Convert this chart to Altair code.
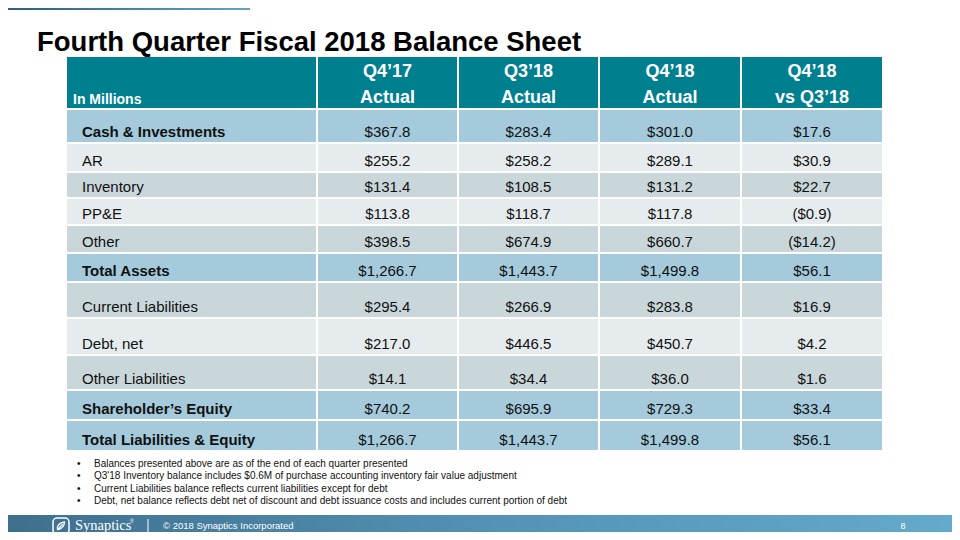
import altair as alt
import pandas as pd

# ---------------- data ----------------
title = "Fourth Quarter Fiscal 2018 Balance Sheet"
unit_label = "In Millions"
header_line1 = ["Q4’17", "Q3’18", "Q4’18", "Q4’18"]
header_line2 = ["Actual", "Actual", "Actual", "vs Q3’18"]
row_labels = ["Cash & Investments", "AR", "Inventory", "PP&E", "Other", "Total Assets",
              "Current Liabilities", "Debt, net", "Other Liabilities",
              "Shareholder’s Equity", "Total Liabilities & Equity"]
q4_17 = [367.8, 255.2, 131.4, 113.8, 398.5, 1266.7, 295.4, 217.0, 14.1, 740.2, 1266.7]
q3_18 = [283.4, 258.2, 108.5, 118.7, 674.9, 1443.7, 266.9, 446.5, 34.4, 695.9, 1443.7]
q4_18 = [301.0, 289.1, 131.2, 117.8, 660.7, 1499.8, 283.8, 450.7, 36.0, 729.3, 1499.8]
vs_q3 = [17.6, 30.9, 22.7, -0.9, -14.2, 56.1, 16.9, 4.2, 1.6, 33.4, 56.1]
is_total = [True, False, False, False, False, True, False, False, False, True, True]
notes = [
    "Balances presented above are as of the end of each quarter presented",
    "Q3'18 Inventory balance includes $0.6M of purchase accounting inventory fair value adjustment",
    "Current Liabilities balance reflects current liabilities except for debt",
    "Debt, net balance reflects debt net of discount and debt issuance costs and includes current portion of debt",
]
footer_brand = "Synaptics"
footer_copy = "© 2018 Synaptics Incorporated"
page_number = "8"

# ---------------- layout (pixels of the 960x540 slide) ----------------
col_edges = [(67, 316), (318, 457), (459, 598), (600, 740), (742, 882)]
header_edges = (57, 108)
row_edges = [(110, 142), (144, 171), (173, 197), (199, 224), (226, 252), (254, 281),
             (283, 317), (319, 354), (356, 389), (391, 419), (421, 450)]
row_kind = ["total", "light", "gray", "light", "gray", "total", "gray", "light", "gray", "total", "total"]
kind_fill = {"total": "#A4CADB", "light": "#E6ECEE", "gray": "#C9D7DB"}
HEADER_FILL = "#00808F"
FONT = "Liberation Sans"

# the page has an 8px margin: map slide pixel c to page pixel c
xs = alt.Scale(domain=[8, 952], nice=False, zero=False)
ys = alt.Scale(domain=[8, 532], nice=False, zero=False, reverse=True)


def X(f="x"):
    return alt.X(f"{f}:Q", scale=xs, axis=None)


def Y(f="y"):
    return alt.Y(f"{f}:Q", scale=ys, axis=None)


def fmt(v):
    s = f"${abs(v):,.1f}"
    return f"({s})" if v < 0 else s


# ---------------- cells ----------------
cells = []
for (x0, x1) in col_edges:
    cells.append(dict(x=x0, x2=x1, y=header_edges[0], y2=header_edges[1], fill=HEADER_FILL))
for (y0, y1), k in zip(row_edges, row_kind):
    for (x0, x1) in col_edges:
        cells.append(dict(x=x0, x2=x1, y=y0, y2=y1, fill=kind_fill[k]))
cells = pd.DataFrame(cells)

rect_layer = alt.Chart(cells).mark_rect().encode(
    x=X(), x2="x2:Q", y=Y(), y2="y2:Q", color=alt.Color("fill:N", scale=None)
)

# header texts
hdr = []
for i, (a, b) in enumerate(zip(header_line1, header_line2)):
    cx = (col_edges[i + 1][0] + col_edges[i + 1][1]) / 2
    hdr.append(dict(x=cx, y=77, t=a))
    hdr.append(dict(x=cx, y=103, t=b))
hdr = pd.DataFrame(hdr)
hdr_layer = alt.Chart(hdr).mark_text(
    font=FONT, fontSize=18, fontWeight="bold", color="white", baseline="alphabetic", align="center"
).encode(x=X(), y=Y(), text="t:N")

unit_layer = alt.Chart(pd.DataFrame([dict(x=73, y=104, t=unit_label)])).mark_text(
    font=FONT, fontSize=14, fontWeight="bold", color="white", baseline="alphabetic", align="left"
).encode(x=X(), y=Y(), text="t:N")

# row labels
lab = pd.DataFrame(dict(
    x=[82] * len(row_labels),
    y=[b - 5 for (_, b) in row_edges],
    t=row_labels,
    total=is_total,
))
lab_bold = alt.Chart(lab[lab.total]).mark_text(
    font=FONT, fontSize=15, fontWeight="bold", color="#111111", baseline="alphabetic", align="left"
).encode(x=X(), y=Y(), text="t:N")
lab_reg = alt.Chart(lab[~lab.total]).mark_text(
    font=FONT, fontSize=15, color="#111111", baseline="alphabetic", align="left"
).encode(x=X(), y=Y(), text="t:N")

# values
vals = []
for ci, series in enumerate([q4_17, q3_18, q4_18, vs_q3]):
    cx = (col_edges[ci + 1][0] + col_edges[ci + 1][1]) / 2
    for ri, v in enumerate(series):
        vals.append(dict(x=cx, y=row_edges[ri][1] - 5, t=fmt(v)))
vals = pd.DataFrame(vals)
val_layer = alt.Chart(vals).mark_text(
    font=FONT, fontSize=15, color="#111111", baseline="alphabetic", align="center"
).encode(x=X(), y=Y(), text="t:N")

# title
title_layer = alt.Chart(pd.DataFrame([dict(x=37, y=51, t=title)])).mark_text(
    font=FONT, fontSize=27.5, fontWeight="bold", color="#000000", baseline="alphabetic", align="left"
).encode(x=X(), y=Y(), text="t:N")

# notes
nd = pd.DataFrame(dict(x=[94] * len(notes), y=[467 + 12.4 * i for i in range(len(notes))], t=notes))
nd["bx"] = 77
notes_layer = alt.Chart(nd).mark_text(
    font=FONT, fontSize=10, color="#111111", baseline="alphabetic", align="left"
).encode(x=X(), y=Y(), text="t:N")
bullet_layer = alt.Chart(nd).mark_text(
    font=FONT, fontSize=10, color="#111111", baseline="alphabetic", align="left", text="•"
).encode(x=X("bx"), y=Y())

# top bar and footer band
top_bar = alt.Chart(pd.DataFrame([dict(x=8, x2=250, y=8, y2=10)])).mark_rect(
    color=alt.LinearGradient(gradient="linear", x1=0, x2=1, y1=0, y2=0,
                             stops=[alt.GradientStop(color="#2F5F80", offset=0),
                                    alt.GradientStop(color="#62A3C4", offset=1)])
).encode(x=X(), x2="x2:Q", y=Y(), y2="y2:Q")

footer = alt.Chart(pd.DataFrame([dict(x=8, x2=952, y=515, y2=532)])).mark_rect(
    color=alt.LinearGradient(gradient="linear", x1=0, x2=1, y1=0, y2=0,
                             stops=[alt.GradientStop(color="#3E6F8F", offset=0),
                                    alt.GradientStop(color="#5495B6", offset=0.55),
                                    alt.GradientStop(color="#64AACA", offset=1)])
).encode(x=X(), x2="x2:Q", y=Y(), y2="y2:Q")

logo_box = alt.Chart(pd.DataFrame([dict(x=53, x2=69, y=518, y2=534)])).mark_rect(
    fill="transparent", stroke="white", strokeWidth=1.5, cornerRadius=4
).encode(x=X(), x2="x2:Q", y=Y(), y2="y2:Q")
logo_leaf = alt.Chart(pd.DataFrame([dict(x=61, y=526)])).mark_point(
    shape="M-0.6,0.7 C-0.8,0.0 -0.3,-0.6 0.6,-0.7 C0.6,0.0 0.1,0.5 -0.6,0.7 M-0.6,0.7 C-0.2,0.2 0.1,-0.1 0.3,-0.3",
    filled=False, stroke="white", strokeWidth=1.3, size=130, opacity=1
).encode(x=X(), y=Y())

brand = alt.Chart(pd.DataFrame([dict(x=75, y=530, t=footer_brand)])).mark_text(
    font="Liberation Serif", fontSize=14.5, color="white", baseline="alphabetic", align="left"
).encode(x=X(), y=Y(), text="t:N")
brand_r = alt.Chart(pd.DataFrame([dict(x=130, y=523, t="®")])).mark_text(
    font=FONT, fontSize=5, color="white", baseline="alphabetic", align="left"
).encode(x=X(), y=Y(), text="t:N")
sep = alt.Chart(pd.DataFrame([dict(x=148, y=519, y2=532)])).mark_rule(
    color="white", strokeWidth=1
).encode(x=X(), y=Y(), y2="y2:Q")
copy_layer = alt.Chart(pd.DataFrame([dict(x=163, y=529, t=footer_copy)])).mark_text(
    font=FONT, fontSize=9.5, color="white", baseline="alphabetic", align="left"
).encode(x=X(), y=Y(), text="t:N")
page_layer = alt.Chart(pd.DataFrame([dict(x=903, y=529, t=page_number)])).mark_text(
    font=FONT, fontSize=9, color="white", baseline="alphabetic", align="center"
).encode(x=X(), y=Y(), text="t:N")

chart = alt.layer(
    top_bar, footer, rect_layer, hdr_layer, unit_layer, lab_bold, lab_reg, val_layer,
    title_layer, notes_layer, bullet_layer, logo_box, logo_leaf, brand, brand_r, sep,
    copy_layer, page_layer
).properties(
    width=944, height=524, padding=0, autosize=alt.AutoSizeParams(type="none")
).configure(
    background="white", view=alt.ViewConfig(stroke="transparent", strokeWidth=0)
)

chart.save("out.html", embed_options={"renderer": "svg", "actions": False})
